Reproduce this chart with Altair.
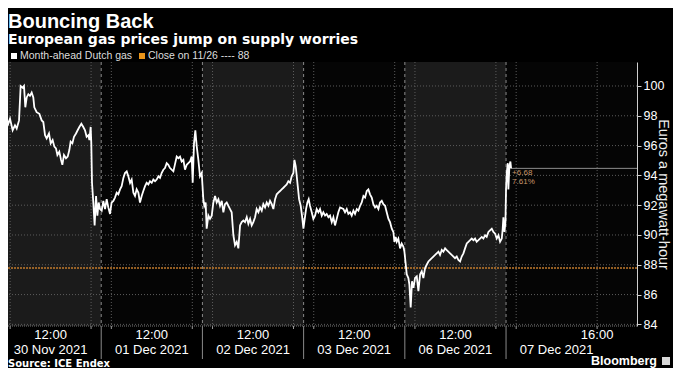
import altair as alt
import pandas as pd

# ---------------- text ----------------
TITLE = "Bouncing Back"
SUBTITLE = "European gas prices jump on supply worries"
SERIES_NAME = "Month-ahead Dutch gas"
CLOSE_NAME = "Close on 11/26 ---- 88"
SOURCE = "Source: ICE Endex"
BRAND = "Bloomberg"
Y_TITLE = "Euros a megawatt-hour"

# ---------------- sessions ----------------
SESSION_DATES = ["30 Nov 2021", "01 Dec 2021", "02 Dec 2021",
                 "03 Dec 2021", "06 Dec 2021", "07 Dec 2021"]
SESSION_LABEL_TIMES = ["12:00", "12:00", "12:00", "12:00", "12:00", "16:00"]
SESSION_OPEN_HOUR = 7      # session shown from 07:00
SESSION_LEN_H = 10         # ten trading hours per session
GRID_HOURS = [8, 16]       # tick / grid hours inside every session

Y_TICKS = [84, 86, 88, 90, 92, 94, 96, 98, 100]
CLOSE_11_26 = 87.79
LAST_PRICE = 94.47
CHANGE_ABS = "+6.68"
CHANGE_PCT = "7.61%"

# ---------------- price series (hours after session open, EUR/MWh) ----------------
H_NOV30 = [0.00, 0.16, 0.33, 0.59, 0.82, 0.99, 1.25, 1.48, 1.65, 1.88,
           2.04, 2.24, 2.37, 2.50, 2.64, 2.80, 2.96, 3.13, 3.29, 3.39,
           3.62, 3.89, 4.12, 4.28, 4.45, 4.61, 4.84, 5.01, 5.20, 5.37,
           5.53, 5.67, 5.86, 6.03, 6.16, 6.32, 6.52, 6.69, 6.85, 6.98,
           7.15, 7.31, 7.51, 7.67, 7.84, 8.04, 8.23, 8.40, 8.56, 8.73,
           8.83, 8.96, 9.02, 9.09, 9.22, 9.35, 9.49, 9.62, 9.75, 9.88]
P_NOV30 = [94.82, 97.69, 97.58, 97.91, 97.47, 97.80, 97.03, 97.36, 97.14, 97.69,
           100.00, 99.89, 100.00, 98.57, 99.23, 99.45, 99.34, 99.56, 99.23, 98.57,
           98.24, 98.13, 97.69, 97.58, 96.70, 96.48, 96.81, 96.15, 96.37, 95.93,
           95.81, 95.37, 95.59, 95.04, 94.71, 95.37, 95.15, 95.26, 95.70, 96.26,
           96.15, 96.59, 96.81, 97.03, 97.25, 97.47, 97.25, 97.03, 96.59, 96.70,
           96.37, 97.25, 96.15, 93.50, 92.18, 90.64, 92.62, 91.30, 92.18, 91.74]

H_DEC01 = [0.05, 0.21, 0.38, 0.54, 0.70, 0.87, 1.03, 1.20, 1.36, 1.53,
           1.69, 1.86, 2.02, 2.19, 2.35, 2.52, 2.68, 2.85, 3.01, 3.18,
           3.34, 3.50, 3.67, 3.83, 4.00, 4.16, 4.33, 4.49, 4.66, 4.82,
           4.99, 5.15, 5.32, 5.48, 5.65, 5.81, 5.97, 6.14, 6.30, 6.47,
           6.63, 6.80, 6.96, 7.13, 7.46, 7.62, 7.79, 7.95, 8.12, 8.28,
           8.45, 8.61, 8.78, 8.94, 9.04, 9.17, 9.30, 9.44, 9.60, 9.76, 9.93]
P_DEC01 = [91.63, 92.29, 91.74, 92.40, 91.85, 91.41, 92.18, 92.29, 92.51, 92.84,
           92.73, 93.06, 93.28, 93.83, 94.16, 94.27, 93.94, 93.50, 93.72, 92.84,
           92.62, 93.06, 92.84, 92.18, 92.62, 92.95, 93.28, 93.50, 93.39, 93.61,
           93.50, 93.72, 93.61, 93.72, 93.94, 93.83, 94.16, 94.38, 94.49, 94.82,
           94.71, 94.49, 94.38, 94.27, 95.26, 95.15, 95.26, 94.93, 95.04, 94.38,
           94.71, 94.82, 94.93, 95.26, 93.50, 96.15, 97.03, 95.93, 95.04, 93.94, 94.16]

H_DEC02 = [0.09, 0.19, 0.32, 0.42, 0.59, 0.75, 0.92, 1.08, 1.25, 1.41,
           1.58, 1.74, 1.91, 2.07, 2.23, 2.40, 2.56, 2.73, 2.89, 3.06,
           3.22, 3.39, 3.55, 3.72, 3.88, 4.05, 4.21, 4.38, 4.54, 4.71,
           4.87, 5.03, 5.20, 5.36, 5.53, 5.69, 5.86, 6.02, 6.19, 6.35,
           6.52, 6.68, 6.85, 7.01, 7.18, 7.34, 7.50, 7.67, 7.83, 8.00,
           8.16, 8.33, 8.49, 8.66, 8.82, 8.99, 9.09, 9.22, 9.32, 9.42,
           9.55, 9.71, 9.84, 9.98]
P_DEC02 = [92.40, 91.96, 92.18, 90.42, 91.30, 91.08, 91.30, 92.18, 92.62, 92.18,
           92.40, 91.96, 92.29, 91.52, 92.07, 92.18, 91.96, 91.74, 91.52, 89.98,
           89.32, 89.54, 89.10, 90.64, 90.86, 90.97, 90.86, 91.19, 90.75, 91.08,
           90.64, 90.86, 91.19, 91.74, 91.52, 91.85, 91.63, 92.07, 91.85, 92.18,
           91.96, 92.29, 92.07, 91.74, 92.40, 92.73, 92.84, 92.95, 93.06, 93.17,
           93.28, 93.39, 93.61, 93.50, 93.94, 94.16, 95.04, 94.60, 93.94, 93.28,
           92.40, 91.96, 91.30, 90.42]

H_DEC03 = [0.11, 0.24, 0.37, 0.50, 0.63, 0.80, 0.96, 1.13, 1.29, 1.46,
           1.62, 1.79, 1.95, 2.12, 2.28, 2.45, 2.61, 2.78, 2.94, 3.10,
           3.27, 3.43, 3.60, 3.93, 4.09, 4.26, 4.42, 4.59, 4.75, 4.92,
           5.08, 5.25, 5.41, 5.58, 5.74, 5.91, 6.07, 6.24, 6.40, 6.56,
           6.73, 6.89, 7.06, 7.22, 7.39, 7.55, 7.72, 7.88, 8.05, 8.21,
           8.38, 8.54, 8.71, 8.87, 8.97, 9.10, 9.20, 9.36, 9.53, 9.69,
           9.86, 9.96]
P_DEC03 = [91.08, 91.74, 92.18, 92.40, 91.96, 91.52, 91.08, 91.30, 91.74, 91.52,
           91.74, 91.30, 91.52, 91.30, 91.41, 91.19, 91.30, 90.86, 91.19, 90.64,
           91.08, 91.52, 91.85, 91.74, 91.52, 91.74, 91.41, 91.52, 91.30, 91.63,
           91.41, 91.74, 91.63, 91.96, 92.18, 92.62, 92.51, 92.95, 93.06, 92.73,
           92.51, 92.07, 91.85, 91.96, 91.74, 92.18, 92.29, 92.07, 91.96, 91.52,
           91.08, 90.86, 90.42, 90.20, 89.54, 89.87, 89.54, 89.76, 89.10, 89.43,
           89.21, 88.88]

H_DEC06 = [0.06, 0.19, 0.35, 0.45, 0.58, 0.71, 0.85, 1.01, 1.18, 1.34,
           1.51, 1.67, 1.83, 2.00, 2.16, 2.33, 2.49, 2.66, 2.82, 2.99,
           3.15, 3.32, 3.48, 3.65, 3.81, 3.98, 4.14, 4.30, 4.47, 4.63,
           4.80, 4.96, 5.13, 5.29, 5.46, 5.62, 5.79, 5.95, 6.12, 6.28,
           6.45, 6.61, 6.78, 6.94, 7.10, 7.27, 7.43, 7.60, 7.76, 7.93,
           8.09, 8.26, 8.42, 8.59, 8.75, 8.92, 9.08, 9.25, 9.41, 9.58,
           9.67, 9.74, 9.84, 9.94]
P_DEC06 = [88.22, 87.36, 87.11, 86.67, 85.13, 86.89, 86.45, 87.11, 87.22, 86.23,
           87.36, 87.56, 87.11, 87.78, 88.00, 88.22, 88.33, 88.44, 88.55, 88.66,
           88.77, 88.88, 88.66, 88.99, 88.88, 89.10, 88.99, 88.88, 88.77, 88.66,
           88.55, 88.44, 88.55, 88.33, 88.22, 88.55, 88.77, 89.10, 89.43, 89.54,
           89.65, 89.76, 89.65, 89.76, 89.54, 89.65, 89.76, 89.87, 89.76, 89.98,
           89.87, 90.20, 90.31, 90.42, 90.20, 90.09, 89.76, 89.98, 89.54, 89.76,
           90.42, 91.19, 90.20, 90.86]

H_DEC07 = [0.00, 0.07, 0.17, 0.23, 0.33, 0.43, 0.50]
P_DEC07 = [93.06, 94.16, 94.82, 93.06, 94.60, 94.93, 94.47]

SESSION_SERIES = [(H_NOV30, P_NOV30), (H_DEC01, P_DEC01), (H_DEC02, P_DEC02),
                  (H_DEC03, P_DEC03), (H_DEC06, P_DEC06), (H_DEC07, P_DEC07)]

# ---------------- scales / layout ----------------
X_DOMAIN = [0.79, 62.94]      # trading hours shown
Y_DOMAIN = [83.89, 101.61]
W, H = 629, 264

rows = []
for k, (hs, ps) in enumerate(SESSION_SERIES):
    for h, p in zip(hs, ps):
        rows.append({"t": k * SESSION_LEN_H + h, "price": p})
line_df = pd.DataFrame(rows)

n_sess = len(SESSION_DATES)
sess_df = pd.DataFrame({
    "start": [k * SESSION_LEN_H for k in range(n_sess)],
    "end": [(k + 1) * SESSION_LEN_H if k < n_sess - 1 else X_DOMAIN[1] + 1 for k in range(n_sess)],
    "shade": [k % 2 for k in range(n_sess)],
})
bound_df = pd.DataFrame({"t": [k * SESSION_LEN_H for k in range(1, n_sess)]})
vgrid_df = pd.DataFrame({"t": [k * SESSION_LEN_H + (hr - SESSION_OPEN_HOUR)
                               for k in range(n_sess) for hr in GRID_HOURS]})
ytick_df = pd.DataFrame({"v": Y_TICKS})
close_df = pd.DataFrame({"v": [CLOSE_11_26]})
last_t = line_df["t"].iloc[-1]
last_df = pd.DataFrame({"t": [last_t], "tend": [X_DOMAIN[1]], "v": [LAST_PRICE],
                        "a": [CHANGE_ABS], "b": [CHANGE_PCT]})
xl_df = pd.DataFrame({
    "t_time": [k * SESSION_LEN_H + int(lbl[:2]) - SESSION_OPEN_HOUR
               for k, lbl in enumerate(SESSION_LABEL_TIMES)],
    "t_date": [k * SESSION_LEN_H + SESSION_LEN_H / 2 for k in range(n_sess)],
    "time": SESSION_LABEL_TIMES,
    "date": SESSION_DATES,
})

xs = alt.Scale(domain=X_DOMAIN, nice=False, zero=False)
ys = alt.Scale(domain=Y_DOMAIN, nice=False, zero=False)
Y_AXIS = alt.Axis(
    orient="right", values=Y_TICKS, title=Y_TITLE, grid=False,
    domainColor="#cfcfcf", tickColor="#cfcfcf", tickSize=4,
    labelColor="#ffffff", labelFont="Liberation Sans", labelFontSize=12.5, labelPadding=2,
    titleColor="#eeeeee", titleFont="Liberation Sans", titleFontSize=14.5,
    titleFontWeight="normal", titleAngle=90, titleX=25, titleY=H / 2,
    titleBaseline="middle", titleAlign="center")


def X(field):
    return alt.X(field, scale=xs, axis=None)


def Y(field):
    return alt.Y(field, scale=ys, axis=Y_AXIS)


shade = alt.Chart(sess_df).mark_rect(clip=True).encode(
    x=X("start:Q"), x2="end:Q",
    y=alt.value(0), y2=alt.value(H),
    color=alt.Color("shade:N", scale=alt.Scale(domain=[0, 1], range=["#1b1b1b", "#050505"]), legend=None),
)
hgrid = alt.Chart(ytick_df).mark_rule(color="#5c5c5c", strokeDash=[1, 2], strokeWidth=1).encode(
    y=Y("v:Q"))
vgrid = alt.Chart(vgrid_df).mark_rule(color="#5c5c5c", strokeDash=[1, 2], strokeWidth=1, clip=True).encode(
    x=X("t:Q"))
xticks = alt.Chart(vgrid_df).mark_rule(color="#9a9a9a", strokeWidth=1).encode(
    x=X("t:Q"), y=alt.value(H), y2=alt.value(H + 3))
bounds = alt.Chart(bound_df).mark_rule(color="#8a8a8a", strokeDash=[3, 3], strokeWidth=1).encode(
    x=X("t:Q"))
bounds_below = alt.Chart(bound_df).mark_rule(color="#8a8a8a", strokeWidth=1).encode(
    x=X("t:Q"), y=alt.value(H), y2=alt.value(H + 33))
bottom = alt.Chart(ytick_df.head(1)).mark_rule(color="#777777", strokeDash=[1, 1]).encode(
    x=alt.value(0), x2=alt.value(W), y=alt.value(H))
close_rule = alt.Chart(close_df).mark_rule(color="#c27b2c", strokeDash=[2, 1], strokeWidth=1.5).encode(
    y=Y("v:Q"))
last_rule = alt.Chart(last_df).mark_rule(color="#8e8e8e", strokeWidth=1).encode(
    x=X("t:Q"), x2="tend:Q", y=Y("v:Q"))

line = alt.Chart(line_df).mark_line(color="#ffffff", strokeWidth=1.8, clip=True).encode(
    x=X("t:Q"), y=Y("price:Q"))

ann_a = alt.Chart(last_df).mark_text(align="left", baseline="middle", dx=1, dy=5, fontSize=8,
                                     font="Liberation Sans", color="#c9956b").encode(
    x=X("t:Q"), y=Y("v:Q"), text="a:N")
ann_b = alt.Chart(last_df).mark_text(align="left", baseline="middle", dx=1, dy=14, fontSize=8,
                                     font="Liberation Sans", color="#c9956b").encode(
    x=X("t:Q"), y=Y("v:Q"), text="b:N")

xl_time = alt.Chart(xl_df).mark_text(align="center", baseline="middle", fontSize=13,
                                     font="Liberation Sans", color="#ffffff").encode(
    x=X("t_time:Q"), y=alt.value(H + 9), text="time:N")
xl_date = alt.Chart(xl_df).mark_text(align="center", baseline="middle", fontSize=13,
                                     font="Liberation Sans", color="#ffffff").encode(
    x=X("t_date:Q"), y=alt.value(H + 24), text="date:N")


def txt(s, x, y, size, font="Liberation Sans", weight="normal", color="#ffffff",
        align="left", baseline="alphabetic"):
    return alt.Chart(pd.DataFrame({"s": [s]})).mark_text(
        align=align, baseline=baseline, fontSize=size, font=font,
        fontWeight=weight, color=color).encode(text="s:N", x=alt.value(x), y=alt.value(y))


def sq(x, y, size, color):
    return alt.Chart(pd.DataFrame({"s": [0]})).mark_square(size=size, color=color, opacity=1).encode(
        x=alt.value(x), y=alt.value(y))


texts = [
    txt(TITLE, 0, -34, 20, weight="bold"),
    txt(SUBTITLE, 0, -18, 14, font="DejaVu Sans", weight="bold"),
    sq(6, -6, 36, "#ffffff"),
    txt(SERIES_NAME, 12, -6, 10.5, color="#dddddd", baseline="middle"),
    sq(134, -6, 36, "#e8941a"),
    txt(CLOSE_NAME, 140, -6, 10.5, color="#dddddd", baseline="middle"),
    txt(SOURCE, 0, H + 41, 10, font="DejaVu Sans", weight="bold"),
    txt(BRAND, W + 20, H + 39, 12.5, weight="bold", align="right"),
    sq(W + 29, H + 35, 64, "#d9d9d9"),
]

chart = alt.layer(
    shade, hgrid, vgrid, bounds, bounds_below, xticks, bottom, close_rule, last_rule,
    line, ann_a, ann_b, xl_time, xl_date, *texts
).properties(
    width=W, height=H,
    padding={"left": 0, "top": 54, "right": 36, "bottom": 42},
    autosize=alt.AutoSizeParams(type="none"),
    background="#000000",
).configure_view(stroke=None)

chart.save("out.html", embed_options={"renderer": "svg", "actions": False})
